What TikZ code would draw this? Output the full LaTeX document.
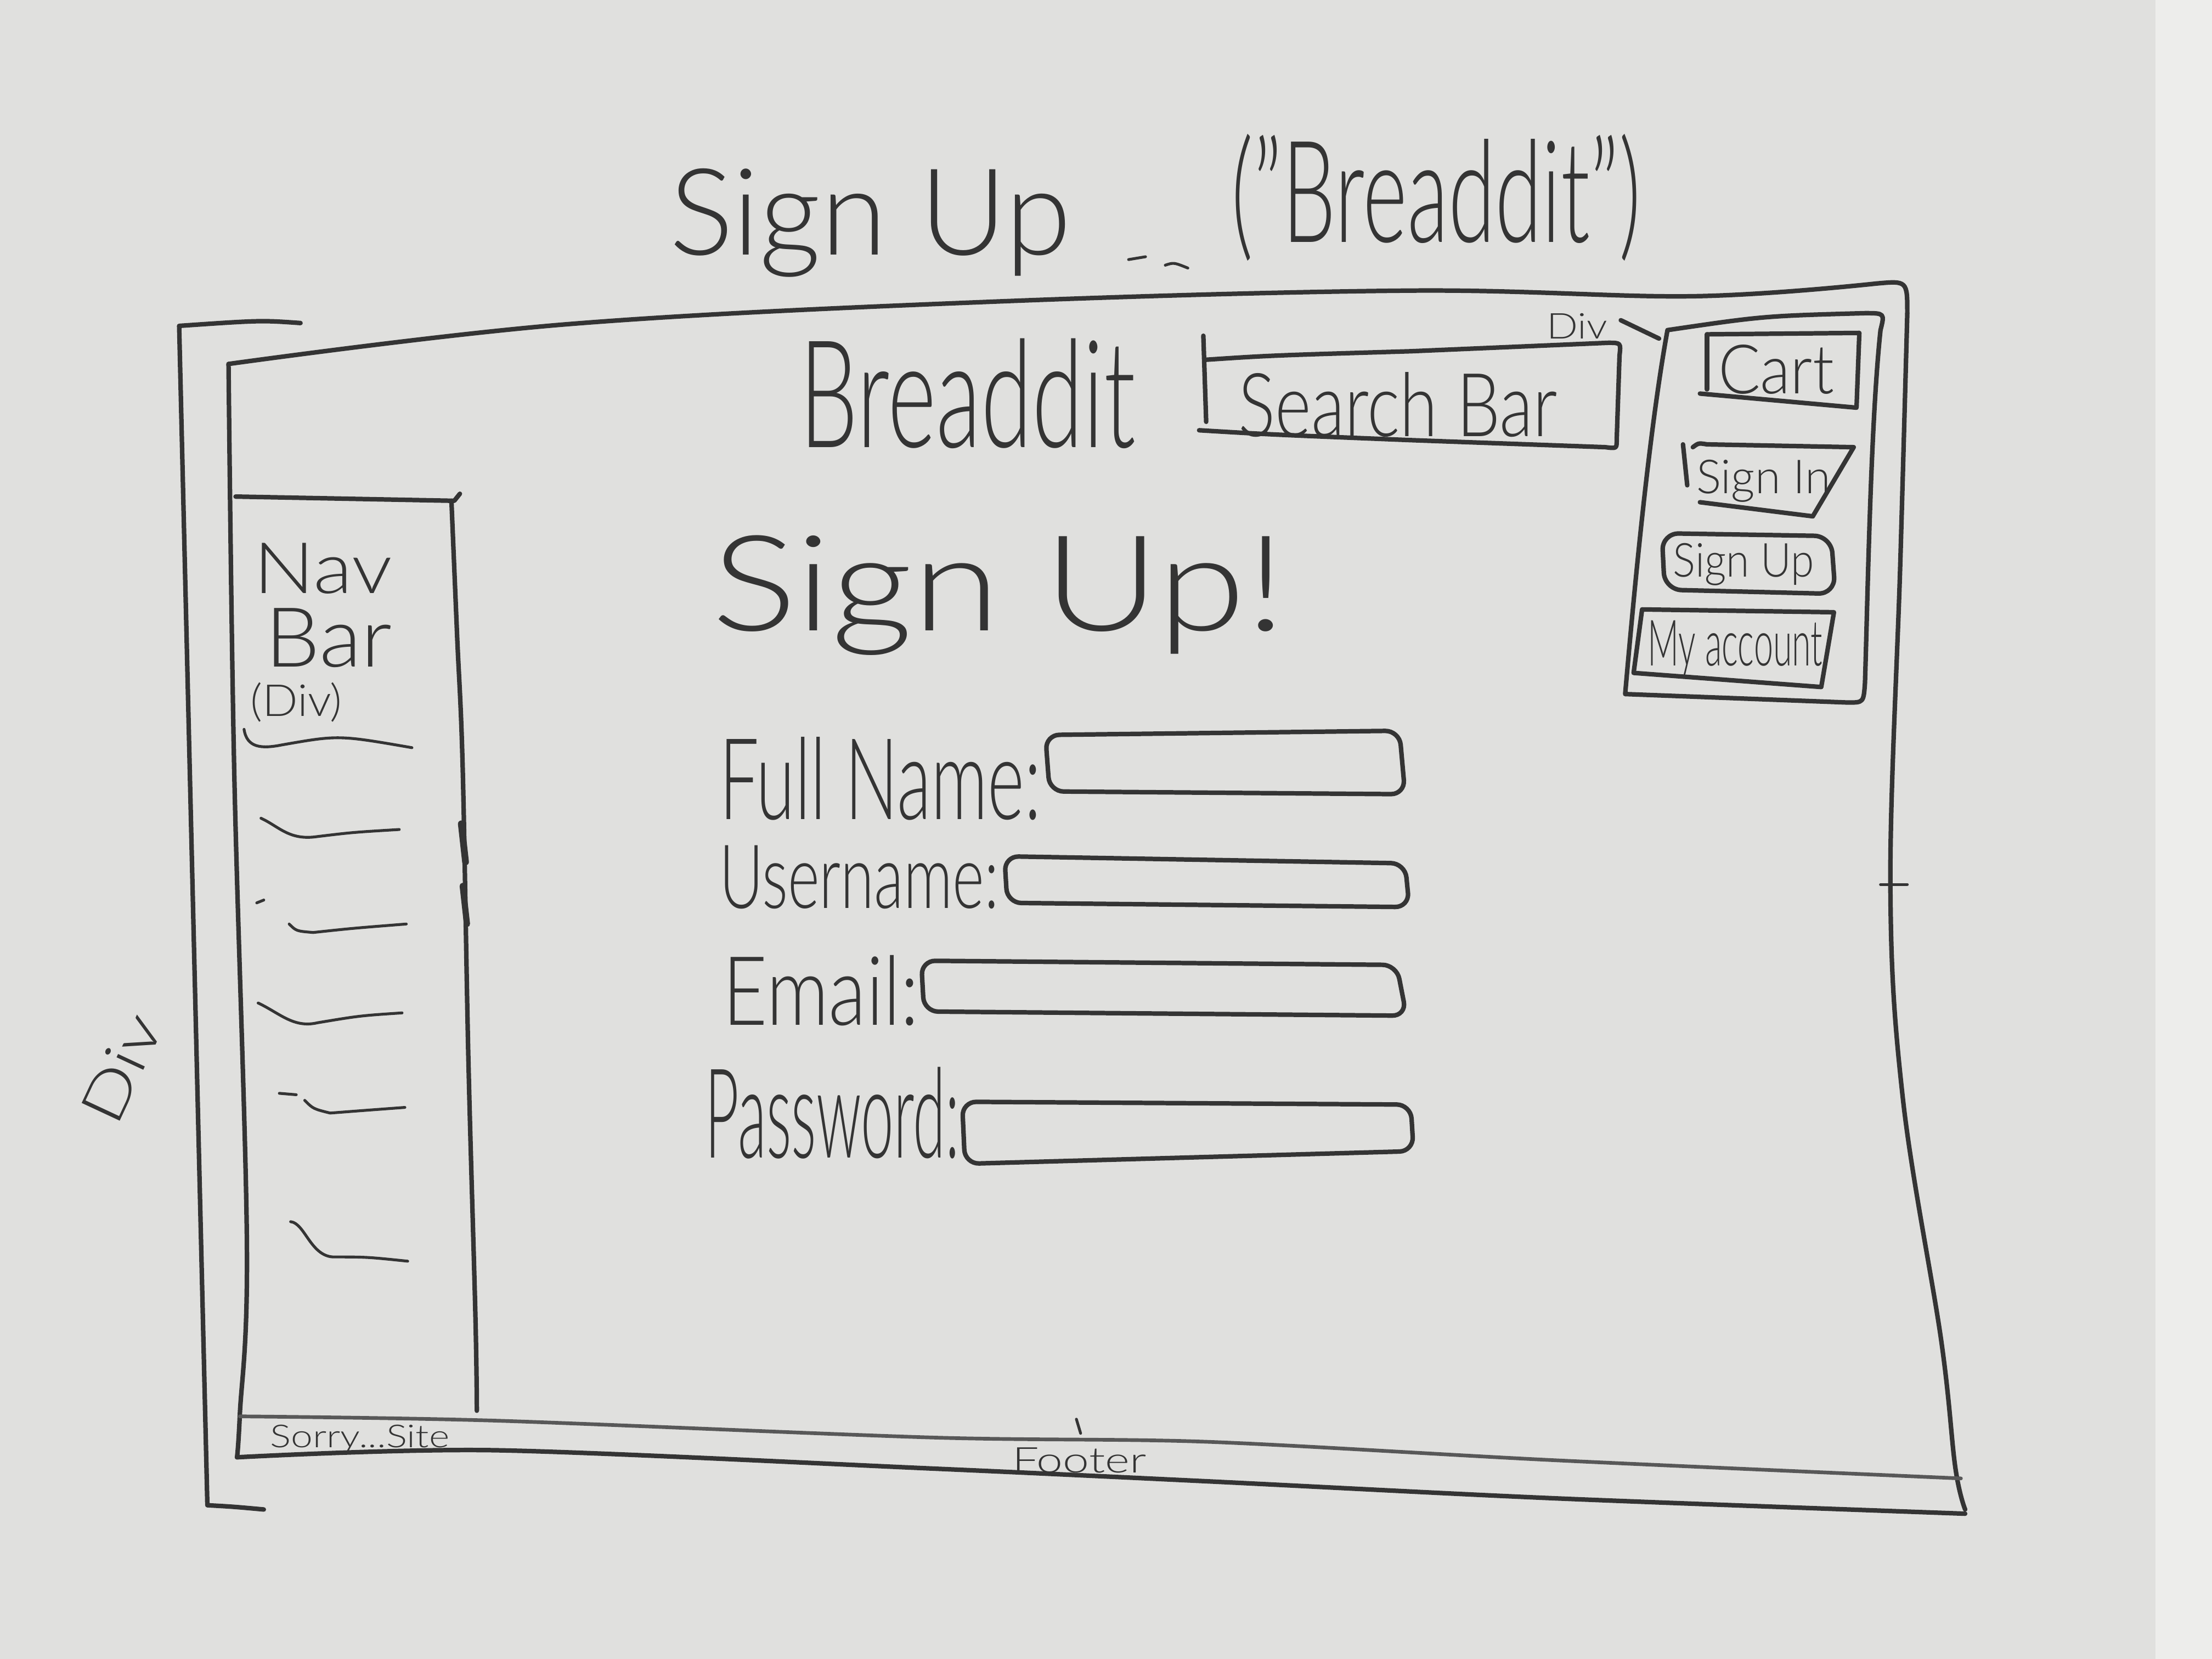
\documentclass[tikz,border=0pt]{standalone}
\usepackage{fontspec}
\setmainfont{Lato}[UprightFont=* Light]
\usepackage{graphicx}
\newlength\upx
\setlength\upx{0.5pt}
% hand-lettered label, stretched to a given width and total height (in sketch pixels)
\newcommand\hand[3]{\resizebox*{#1\upx}{#2\upx}{#3}}
\definecolor{board}{RGB}{224,224,222}
\definecolor{boardlight}{RGB}{237,237,235}
\definecolor{ink}{RGB}{52,52,52}
\definecolor{inksoft}{RGB}{88,88,88}
\tikzset{
  pen/.style={draw=ink, line width=1.6pt, line cap=round, line join=round},
  softpen/.style={draw=inksoft, line width=1.3pt, line cap=round, line join=round},
  finepen/.style={draw=ink, line width=1.0pt, line cap=round, line join=round},
  lbl/.style={inner sep=0pt, text=ink},
  field/.style={pen, rounded corners=5pt},
}
\begin{document}
\begin{tikzpicture}[x=0.5pt, y=-0.5pt]
% whiteboard
\fill[board] (0,0) rectangle (1568,1176);
\fill[boardlight] (1528,0) rectangle (1568,1176);
\useasboundingbox (0,0) rectangle (1568,1176);

% ---- page titles
\node[lbl] (title) at (617,158) {\hand{285}{77}{Sign Up}};
\node[lbl] (brandnote) at (1018,140) {\hand{290}{90}{("Breaddit")}};
\draw[finepen] (800,184) -- (812,182);
\draw[finepen] (826,188) .. controls (832,186) .. (842,190);

% ---- outer bracket (wrapper div)
\draw[pen] (213,229) .. controls (185,227) .. (127,231) -- (137,650) -- (147,1067) .. controls (165,1068) .. (187,1070);
\node[lbl, rotate=65] (wrapdiv) at (86,757) {\hand{80}{30}{Div}};

% ---- page frame
\draw[pen] plot[smooth, tension=0.6] coordinates {(168,1033) (170,1003) (175,880) (166,545) (162,258)};
\draw[pen] plot[smooth, tension=0.6] coordinates {(162,258) (400,230) (700,214) (1000,206) (1200,210) (1330,201)};
\draw[pen] (1330,201) .. controls (1352,199) .. (1352,222);
\draw[pen] plot[smooth, tension=0.6] coordinates {(1352,222) (1347,400) (1340,627) (1349,780) (1376,950) (1386,1040) (1393,1070)};
\draw[finepen] (1333,627) -- (1352,627);

% ---- footer band
\draw[softpen] plot[smooth, tension=0.5] coordinates {(170,1004) (350,1007) (661,1019) (855,1022) (1100,1035) (1390,1048)};
\draw[pen] plot[smooth, tension=0.5] coordinates {(168,1033) (350,1028) (661,1041) (855,1050) (1100,1062) (1393,1073)};
\draw[finepen] (763,1006) -- (766,1016);
\node[lbl] (sorry) at (255,1020) {\hand{127}{20}{Sorry...Site}};
\node[lbl] (footer) at (765,1035) {\hand{95}{18}{Footer}};

% ---- side navigation
\draw[pen] (167,352) -- (322,355) -- (326,350);
\draw[pen] plot[smooth, tension=0.6] coordinates {(320,355) (324,450) (328,545) (332,750) (337,933) (338,1000)};
\draw[pen, line width=2.4pt] (327,584) -- (330,611);
\draw[pen, line width=2.2pt] (328,628) -- (331,655);
\node[lbl] (navA) at (229,403) {\hand{98}{36}{Nav}};
\node[lbl] (navB) at (233,452) {\hand{90}{42}{Bar}};
\node[lbl] (navC) at (210,498) {\hand{65}{28}{(Div)}};
% menu entries
\draw[finepen] (173,517) .. controls (175,530) and (185,531) .. (200,528) .. controls (240,521) .. (292,530);
\draw[finepen] (185,580) .. controls (198,586) and (205,596) .. (225,593) .. controls (250,590) .. (283,588);
\draw[finepen] (182,640) -- (187,638);
\draw[finepen] (205,655) .. controls (210,660) .. (222,661) .. controls (250,658) .. (288,655);
\draw[finepen] (183,711) .. controls (198,718) and (208,729) .. (225,725) .. controls (255,720) .. (285,718);
\draw[finepen] (198,775) -- (210,776);
\draw[finepen] (216,780) .. controls (222,786) .. (234,789) .. controls (260,787) .. (287,785);
\draw[finepen] (206,866) .. controls (216,867) and (220,890) .. (236,891) .. controls (260,891) .. (289,894);

% ---- header: brand and search bar
\node[lbl] (brand) at (686,279) {\hand{238}{78}{Breaddit}};
\draw[pen] (853,238) -- (855,299);
\draw[pen] (855,255) .. controls (900,252) .. (1000,249) -- (1140,243) .. controls (1149,243) .. (1148,252) -- (1146,312) .. controls (1146,318) .. (1138,317) -- (1000,312) .. controls (900,308) .. (850,305);
\node[lbl] (search) at (991,287) {\hand{226}{46}{Search Bar}};

% ---- account div with buttons
\node[lbl] (divlbl) at (1118,231) {\hand{43}{18}{Div}};
\coordinate (divtip) at (1176,240);
\draw[pen] ([xshift=4.5pt,yshift=2pt]divlbl.east) -- (divtip);
\draw[pen] (1182,234) .. controls (1250,224) .. (1322,222) .. controls (1336,222) .. (1333,234)
  .. controls (1326,300) and (1324,420) .. (1322,484) .. controls (1321,498) .. (1310,498)
  -- (1152,492) .. controls (1160,400) and (1170,300) .. (1182,234);
% cart
\draw[pen] (1210,237) -- (1210,276);
\draw[pen] (1210,237) -- (1318,236) -- (1316,289) -- (1205,279);
\node[lbl] (cart) at (1259,262) {\hand{82}{35}{Cart}};
% sign in
\draw[pen] (1193,315) -- (1196,344);
\draw[pen] (1200,317) .. controls (1204,314) .. (1210,315) -- (1314,317) -- (1285,366) -- (1205,356);
\node[lbl] (signin) at (1250,341) {\hand{95}{30}{Sign In}};
% sign up
\draw[pen, rounded corners=6pt] (1178,378) -- (1298,380) -- (1301,421) -- (1180,418) -- cycle;
\node[lbl] (signupbtn) at (1236,400) {\hand{100}{30}{Sign Up}};
% my account
\draw[pen] (1164,432) -- (1300,434) -- (1291,487) -- (1158,477) -- cycle;
\node[lbl] (account) at (1230,460) {\hand{124}{40}{My account}};

% ---- sign-up form
\node[lbl] (heading) at (708,422) {\hand{407}{85}{Sign Up!}};
\node[lbl] (fullname) at (624,552) {\hand{228}{59}{Full Name:}};
\draw[field] (741,521) -- (992,518) -- (996,563) -- (744,561) -- cycle;
\node[lbl] (username) at (609,622) {\hand{198}{45}{Username:}};
\draw[field] (712,607) -- (996,612) -- (999,643) -- (714,640) -- cycle;
\node[lbl] (email) at (582,702) {\hand{139}{50}{Email:}};
\draw[field] (653,681) -- (990,684) -- (997,720) -- (655,717) -- cycle;
\node[lbl] (password) at (590,789) {\hand{180}{65}{Password:}};
\draw[field] (682,781) -- (1000,783) -- (1002,816) -- (684,825) -- cycle;
\end{tikzpicture}
\end{document}
